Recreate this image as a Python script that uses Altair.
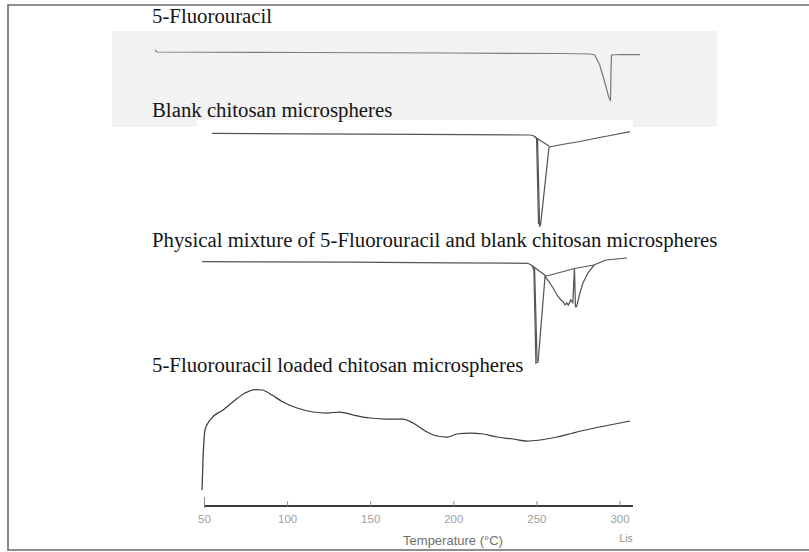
import altair as alt
import pandas as pd

# ---- DSC thermograms: temperature (°C) and heat-flow signal (relative units, endotherm down)

# 5-Fluorouracil
FU_T = [20.2, 21.4, 107.5, 197.7, 265.5, 281.8, 284.8, 287.8, 290.8, 293.2, 294.3, 294.6, 294.9, 300.0, 312.0]
FU_S = [2.0, 0.0, -0.5, -1.0, -1.5, -2.0, -3.0, -13.0, -30.0, -45.0, -49.0, -18.0, -3.0, -2.5, -2.5]

# Blank chitosan microspheres
BL_T = [54.5, 107.5, 179.7, 245.9, 248.3, 250.4, 251.6, 252.2, 257.3, 266.9, 275.9, 286.1, 295.8, 306.0]
BL_S = [0.7, 0.2, -0.3, -1.0, -2.0, -5.0, -92.0, -91.0, -13.0, -10.0, -7.5, -4.0, -1.0, 2.3]
BL_DIAG_T = [248.3, 257.3]
BL_DIAG_S = [-2.5, -12.0]
BL_EDGE_T = [249.8, 251.0]
BL_EDGE_S = [-4.0, -90.0]

# Physical mixture of 5-FU and blank chitosan microspheres
MX_T = [48.5, 137.5, 197.7, 244.6, 247.0, 248.2, 249.4, 250.7, 254.9,
        257.3, 259.7, 262.7, 264.5, 265.7, 266.9, 267.9, 268.9, 270.4, 271.6,
        272.6, 273.2, 273.9, 275.9, 277.7, 280.7, 284.4, 291.4, 304.2]
MX_S = [0.8, 0.3, -0.3, -0.8, -3.0, -7.5, -100.5, -99.5, -14.0,
        -19.0, -25.5, -34.0, -37.5, -39.0, -42.5, -40.5, -42.5, -37.5, -40.0,
        -6.0, -44.0, -44.0, -30.5, -20.5, -10.5, -2.5, 2.5, 4.5]
MX_DIAG_T = [247.0, 255.5]
MX_DIAG_S = [-3.0, -13.5]
MX_EDGE_T = [248.6, 250.1]
MX_EDGE_S = [-5.5, -98.5]
MX_BASE_T = [254.9, 272.6, 279.5, 284.4]
MX_BASE_S = [-14.0, -6.0, -4.0, -2.5]

# 5-Fluorouracil loaded chitosan microspheres
LD_T = [48.5, 49.1, 50.3, 53.3, 61.1, 67.1, 74.4, 80.4, 84.6, 90.6, 97.2, 105.7, 115.3,
        123.7, 131.5, 139.4, 149.6, 159.8, 169.4, 175.5, 183.9, 189.9, 195.9, 201.9,
        209.7, 217.6, 226.0, 235.6, 244.0, 251.9, 262.1, 271.7, 281.9, 293.9, 306.0]
LD_S = [16, 46, 76, 86, 96, 104, 113, 116.5, 116, 111, 104, 98, 94,
        93, 94, 91, 88, 87, 87, 83, 74, 70, 69, 72,
        73, 72, 69, 67, 65, 66, 69, 73, 77, 81, 85]

# vertical stacking of the four curves (same units as the signal)
OFFSETS = {"fu": 454.0, "blank": 372.0, "mix": 243.5, "loaded": 0.0}
LINE_COLORS = {"fu": "#7c7c7c", "blank": "#565656", "mix": "#565656", "loaded": "#3c3c3c"}

TICKS = [50, 100, 150, 200, 250, 300]
AXIS_SPAN = [50, 307.8]

LABELS = [
    "5-Fluorouracil",
    "Blank chitosan microspheres",
    "Physical mixture of 5-Fluorouracil and blank chitosan microspheres",
    "5-Fluorouracil loaded chitosan microspheres",
]

segments = [
    ("fu", "fu-main", FU_T, FU_S),
    ("blank", "blank-main", BL_T, BL_S),
    ("blank", "blank-diag", BL_DIAG_T, BL_DIAG_S),
    ("blank", "blank-edge", BL_EDGE_T, BL_EDGE_S),
    ("mix", "mix-main", MX_T, MX_S),
    ("mix", "mix-diag", MX_DIAG_T, MX_DIAG_S),
    ("mix", "mix-edge", MX_EDGE_T, MX_EDGE_S),
    ("mix", "mix-base", MX_BASE_T, MX_BASE_S),
    ("loaded", "loaded-main", LD_T, LD_S),
]

rows = []
for trace, key, temps, sig in segments:
    for i, (t, s) in enumerate(zip(temps, sig)):
        rows.append({"trace": trace, "key": key, "idx": i, "T": t, "level": OFFSETS[trace] + s})
curves = pd.DataFrame(rows)
sharp = curves[curves["trace"] != "loaded"]
smooth = curves[curves["trace"] == "loaded"]

W, H = 809, 552
x_scale = alt.Scale(domain=[-73.04, 413.72], nice=False, zero=False)
y_scale = alt.Scale(domain=[-46, 506], nice=False, zero=False)
color_scale = alt.Scale(domain=list(LINE_COLORS.keys()), range=list(LINE_COLORS.values()))
one = pd.DataFrame({"a": [0]})

frame = alt.Chart(one).mark_rect(fill="transparent", stroke="#6a6a6a", strokeWidth=1.6).encode(
    x=alt.value(8), x2=alt.value(830), y=alt.value(5), y2=alt.value(550)
)
panel = alt.Chart(one).mark_rect(color="#f2f2f2").encode(
    x=alt.value(112), x2=alt.value(717), y=alt.value(31), y2=alt.value(127)
)
patch = alt.Chart(one).mark_rect(color="#ffffff").encode(
    x=alt.value(197), x2=alt.value(633), y=alt.value(120), y2=alt.value(230)
)

label_rows = [23, 117, 247, 372]
label_layers = [
    alt.Chart(one).mark_text(
        text=txt, align="left", baseline="alphabetic",
        font="Liberation Serif", fontSize=20.8, color="#141414",
    ).encode(x=alt.value(152), y=alt.value(r))
    for txt, r in zip(LABELS, label_rows)
]


def trace_layer(df, interp):
    return alt.Chart(df).mark_line(strokeWidth=1.25, interpolate=interp).encode(
        x=alt.X("T:Q", scale=x_scale, axis=None),
        y=alt.Y("level:Q", scale=y_scale, axis=None),
        color=alt.Color("trace:N", scale=color_scale, legend=None),
        detail="key:N",
        order="idx:Q",
    )


lines_sharp = trace_layer(sharp, "linear")
lines_smooth = trace_layer(smooth, "monotone")

# temperature axis: base line, ticks and tick labels
axis_line = alt.Chart(pd.DataFrame({"t0": [AXIS_SPAN[0]], "t1": [AXIS_SPAN[1]], "lv": [0.0]})).mark_rule(
    color="#3a3a3a", strokeWidth=2.2
).encode(x=alt.X("t0:Q", scale=x_scale), x2="t1:Q", y=alt.Y("lv:Q", scale=y_scale))

tick_df = pd.DataFrame({"T": TICKS, "lo": [-2] + [0] * 5, "hi": [9] + [5] * 5,
                        "lab": [str(t) for t in TICKS], "lablv": [-14] * len(TICKS)})
tick_rules = alt.Chart(tick_df).mark_rule(color="#8a8a8a", strokeWidth=1).encode(
    x=alt.X("T:Q", scale=x_scale), y=alt.Y("lo:Q", scale=y_scale), y2="hi:Q"
)
tick_labels = alt.Chart(tick_df).mark_text(
    font="Liberation Sans", fontSize=11.5, color="#a0a0a0", baseline="middle"
).encode(x=alt.X("T:Q", scale=x_scale), y=alt.Y("lablv:Q", scale=y_scale), text="lab:N")

x_title = alt.Chart(one).mark_text(
    text="Temperature (°C)", font="Liberation Sans", fontSize=13, color="#707070", baseline="middle"
).encode(x=alt.value(453), y=alt.value(541))
unit_note = alt.Chart(one).mark_text(
    text="Lis", font="Liberation Sans", fontSize=10, color="#8a8a8a", baseline="middle"
).encode(x=alt.value(626), y=alt.value(539))

chart = alt.layer(
    frame, panel, patch, *label_layers, lines_sharp, lines_smooth,
    axis_line, tick_rules, tick_labels, x_title, unit_note
).properties(
    width=W, height=H, padding=0, autosize="none", background="#ffffff"
).configure_view(stroke=None)

chart.save("out.html", embed_options={"renderer": "svg", "actions": False})
